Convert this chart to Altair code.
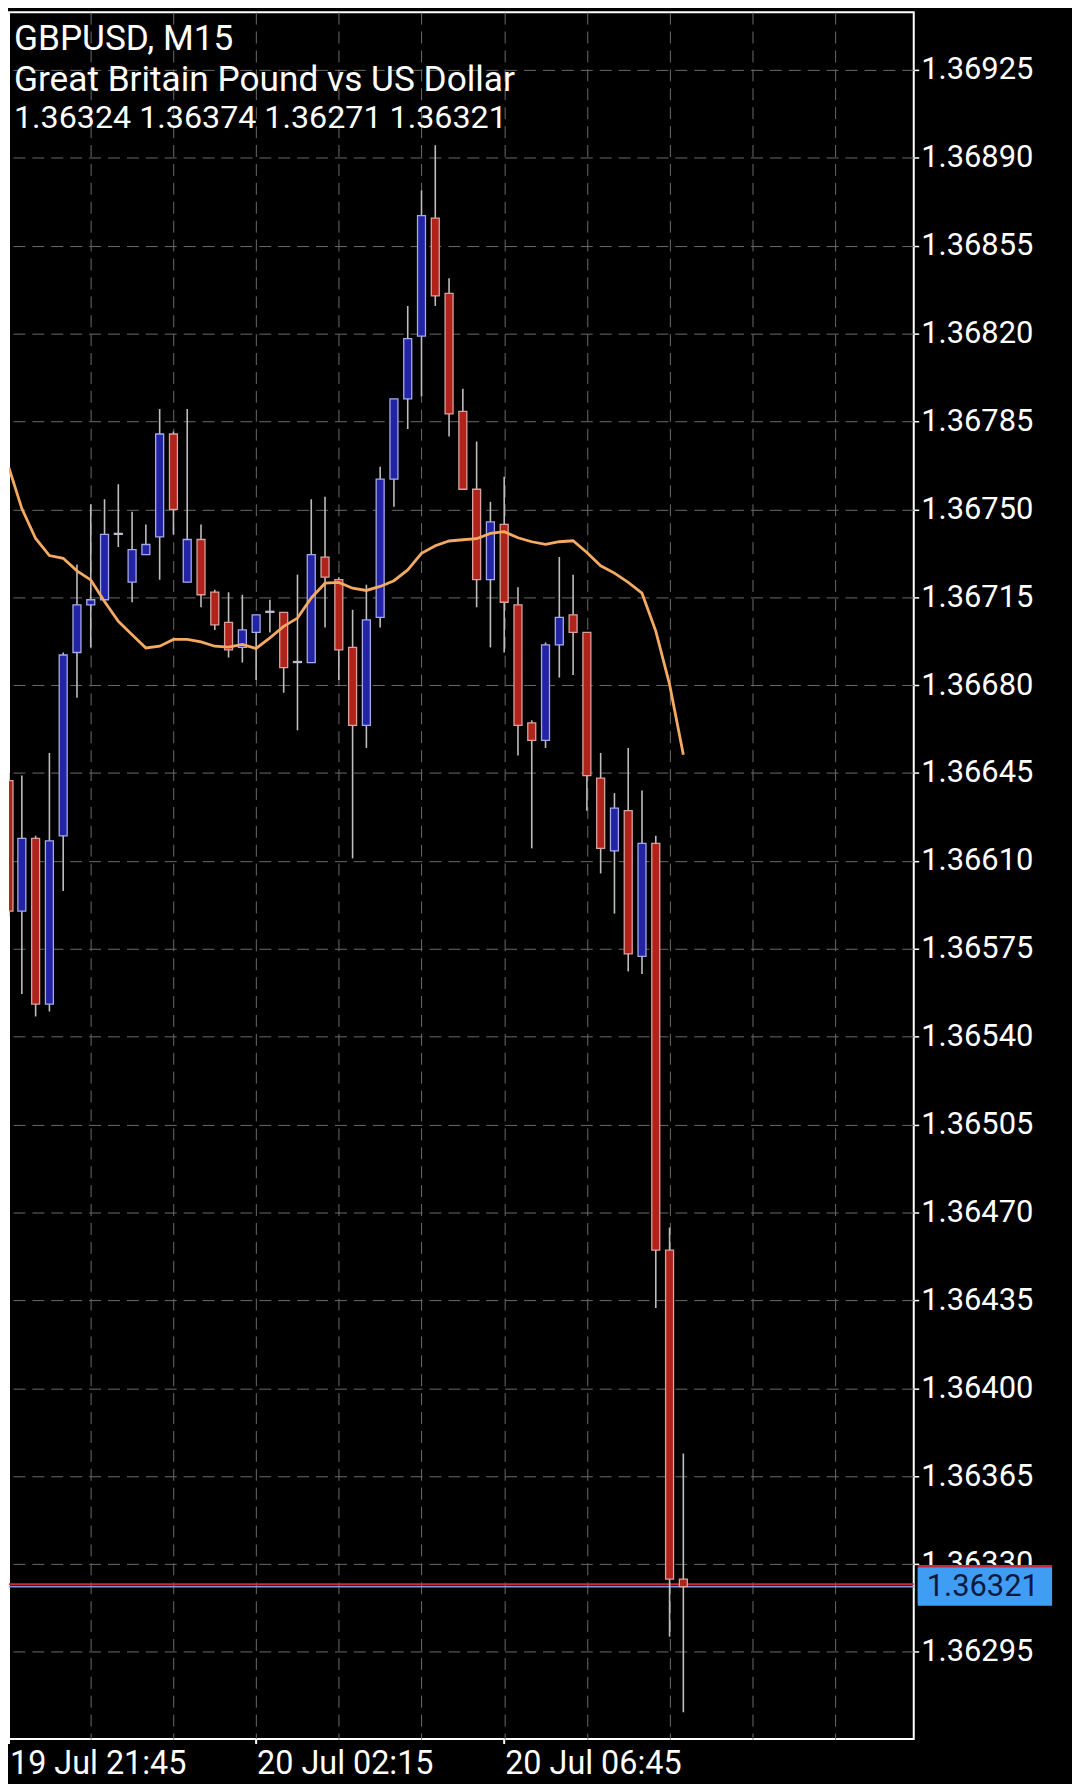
import altair as alt
import numpy as np
import pandas as pd

# ---------------- data ----------------
SYMBOL = "GBPUSD, M15"
DESCRIPTION = "Great Britain Pound vs US Dollar"

OPEN = [1.36642, 1.36590, 1.36619, 1.36553, 1.36620, 1.36693, 1.36712, 1.36714, 1.36740, 1.36721,
        1.36732, 1.36739, 1.36780, 1.36721, 1.36738, 1.36717, 1.36705, 1.36695, 1.36701, 1.36709,
        1.36709, 1.36689, 1.36689, 1.36731, 1.36722, 1.36695, 1.36664, 1.36707, 1.36762, 1.36794,
        1.36819, 1.36866, 1.36836, 1.36789, 1.36758, 1.36722, 1.36744, 1.36712, 1.36665, 1.36658,
        1.36696, 1.36708, 1.36701, 1.36643, 1.36614, 1.36630, 1.36572, 1.36617, 1.36455, 1.36324]
HIGH = [1.36645, 1.36644, 1.36620, 1.36653, 1.36693, 1.36728, 1.36752, 1.36754, 1.36760, 1.36749,
        1.36744, 1.36790, 1.36781, 1.36790, 1.36744, 1.36718, 1.36717, 1.36716, 1.36708, 1.36714,
        1.36709, 1.36724, 1.36754, 1.36755, 1.36723, 1.36710, 1.36720, 1.36767, 1.36794, 1.36831,
        1.36877, 1.36895, 1.36842, 1.36798, 1.36777, 1.36753, 1.36763, 1.36719, 1.36666, 1.36697,
        1.36731, 1.36724, 1.36701, 1.36653, 1.36637, 1.36655, 1.36638, 1.36620, 1.36464, 1.36374]
LOW = [1.36588, 1.36557, 1.36548, 1.36550, 1.36598, 1.36675, 1.36695, 1.36713, 1.36735, 1.36713,
       1.36732, 1.36722, 1.36740, 1.36721, 1.36711, 1.36702, 1.36691, 1.36689, 1.36682, 1.36701,
       1.36677, 1.36662, 1.36689, 1.36703, 1.36682, 1.36611, 1.36655, 1.36703, 1.36751, 1.36782,
       1.36795, 1.36831, 1.36779, 1.36758, 1.36711, 1.36695, 1.36693, 1.36652, 1.36615, 1.36655,
       1.36683, 1.36684, 1.36630, 1.36605, 1.36589, 1.36566, 1.36565, 1.36432, 1.36301, 1.36271]
CLOSE = [1.36590, 1.36619, 1.36553, 1.36618, 1.36692, 1.36712, 1.36714, 1.36740, 1.36740, 1.36734,
         1.36736, 1.36780, 1.36750, 1.36738, 1.36716, 1.36704, 1.36694, 1.36702, 1.36708, 1.36709,
         1.36687, 1.36689, 1.36732, 1.36723, 1.36694, 1.36664, 1.36706, 1.36762, 1.36794, 1.36818,
         1.36867, 1.36835, 1.36788, 1.36758, 1.36722, 1.36745, 1.36713, 1.36664, 1.36658, 1.36696,
         1.36707, 1.36701, 1.36644, 1.36615, 1.36631, 1.36573, 1.36617, 1.36455, 1.36324, 1.36321]
MOVING_AVG = [1.367665, 1.367503, 1.367384, 1.367316, 1.367305, 1.367255, 1.367219, 1.367133, 1.367054, 1.367001,
              1.366948, 1.366955, 1.366982, 1.366982, 1.366972, 1.366955, 1.366951, 1.366962, 1.366946, 1.366988,
              1.367034, 1.367067, 1.367147, 1.367206, 1.367209, 1.367186, 1.367177, 1.367193, 1.367216, 1.367259,
              1.367325, 1.367355, 1.367374, 1.367379, 1.367383, 1.367404, 1.367411, 1.367387, 1.367371, 1.367361,
              1.367371, 1.367375, 1.367328, 1.367275, 1.367246, 1.367209, 1.367166, 1.367015, 1.366803, 1.366523]
BAR_INDEX = list(range(len(OPEN)))

Y_TICKS = [1.36295, 1.36330, 1.36365, 1.36400, 1.36435, 1.36470, 1.36505, 1.36540, 1.36575, 1.36610,
           1.36645, 1.36680, 1.36715, 1.36750, 1.36785, 1.36820, 1.36855, 1.36890, 1.36925]
TIME_LABELS = ["19 Jul 21:45", "20 Jul 02:15", "20 Jul 06:45"]
TIME_LABEL_BARS = [0, 18, 36]
GRID_BARS = list(range(6, 61, 6))
BID = 1.36321
ASK = 1.36322

# ---------------- layout / style ----------------
W, H = 909, 1735
BAR_PX = 14.0
X_LO = 6 / BAR_PX
FONT = "Roboto"
FS = 31

x_scale = alt.Scale(domain=[X_LO, X_LO + W / BAR_PX], clamp=True, nice=False, zero=False)
y_scale = alt.Scale(domain=[1.362603, 1.369480], nice=False, zero=False)
grid = dict(grid=True, gridColor="#6a6a6a", gridDash=[12, 7], gridWidth=1)
x_axis = alt.Axis(values=GRID_BARS, labels=False, ticks=False, domain=False, title=None, **grid)
y_axis = alt.Axis(orient="right", values=Y_TICKS, format=".5f", labelFont=FONT, labelFontSize=FS,
                  labelColor="white", tickColor="white", tickSize=5, tickWidth=1.5, labelPadding=2,
                  domain=False, title=None, labelOverlap=False, labelFlush=False, **grid)


def X(f):
    return alt.X(f"{f}:Q", scale=x_scale, axis=x_axis)


def Y(f):
    return alt.Y(f"{f}:Q", scale=y_scale, axis=y_axis)


o = np.array(OPEN)
c = np.array(CLOSE)
candles = pd.DataFrame({"k": BAR_INDEX, "o": OPEN, "h": HIGH, "l": LOW, "c": CLOSE, "ma": MOVING_AVG,
                        "dir": np.where(c > o, "up", np.where(c < o, "down", "flat"))})

one = pd.DataFrame({"z": [0]})

# small black patch so the canvas reaches (but does not exceed) the page width
corner = alt.Chart(one).mark_rect(color="black").encode(
    x=alt.value(1054), x2=alt.value(1062), y=alt.value(1700), y2=alt.value(1708))

prices = pd.DataFrame({"p": [ASK, BID], "kind": ["ask", "bid"],
                       "label": [f"{ASK:.5f}", f"{BID:.5f}"]})
price_lines = alt.Chart(prices).mark_rule(strokeWidth=1.6).encode(
    x=alt.value(0), x2=alt.value(W), y=Y("p"),
    color=alt.Color("kind:N", scale=alt.Scale(domain=["ask", "bid"], range=["#d0283a", "#8494dc"]), legend=None))

wicks = alt.Chart(candles).mark_rule(color="#bdbdbd", strokeWidth=1.6, clip=True).encode(
    x=X("k"), y=Y("l"), y2="h")

bodies = alt.Chart(candles).transform_calculate(
    c2="datum.c == datum.o ? datum.c + 0.000004 : datum.c"
).mark_bar(size=8, strokeWidth=1.3, clip=True).encode(
    x=X("k"), y=Y("o"), y2="c2:Q",
    fill=alt.Fill("dir:N", scale=alt.Scale(domain=["up", "down", "flat"],
                                           range=["#2323a6", "#b0231b", "#b9bcd3"]), legend=None),
    stroke=alt.Stroke("dir:N", scale=alt.Scale(domain=["up", "down", "flat"],
                                               range=["#a3aae6", "#d9a19d", "#b9bcd3"]), legend=None))

ma_line = alt.Chart(candles).mark_line(color="#f5aa62", strokeWidth=2.8, clip=True).encode(
    x=X("k"), y=Y("ma"))

ohlc_text = " ".join(f"{v:.5f}" for v in (OPEN[-1], HIGH[-1], LOW[-1], CLOSE[-1]))
header_lines = [SYMBOL, DESCRIPTION, ohlc_text]
header_y = [38.5, 79.5, 116.5]
header_fs = [35.4, 35.4, 32.4]
headers = [
    alt.Chart(pd.DataFrame({"t": [txt]})).mark_text(
        align="left", baseline="alphabetic", font=FONT, fontSize=fs, color="white"
    ).encode(x=alt.value(5), y=alt.value(yy), text="t:N")
    for txt, yy, fs in zip(header_lines, header_y, header_fs)
]

tlabels = pd.DataFrame({"k": TIME_LABEL_BARS, "label": TIME_LABELS})
time_text = alt.Chart(tlabels).mark_text(
    align="left", baseline="alphabetic", dx=1, font=FONT, fontSize=32.5, color="white"
).encode(x=X("k"), y=alt.value(H + 35), text="label:N")
time_ticks = alt.Chart(tlabels).mark_rule(color="white", strokeWidth=2).encode(
    x=X("k"), y=alt.value(H), y2=alt.value(H + 5))

ask_box = alt.Chart(prices).transform_filter("datum.kind == 'ask'").mark_rule(
    color="#c8283c", strokeWidth=38.4, strokeCap="butt"
).encode(x=alt.value(W + 4), x2=alt.value(W + 139), y=Y("p"))
bid_box = alt.Chart(prices).transform_filter("datum.kind == 'bid'").mark_rule(
    color="#3f9ef3", strokeWidth=38.4, strokeCap="butt"
).encode(x=alt.value(W + 4), x2=alt.value(W + 139), y=Y("p"))
bid_text = alt.Chart(prices).transform_filter("datum.kind == 'bid'").mark_text(
    align="left", baseline="middle", font=FONT, fontSize=FS, color="#0d1a3f"
).encode(x=alt.value(W + 13), y=Y("p"), text="label:N")

chart = alt.layer(
    corner, price_lines, wicks, bodies, ma_line, *headers, time_text, time_ticks,
    ask_box, bid_box, bid_text
).properties(
    width=W, height=H, padding=0, background="black"
).configure_view(
    stroke="white", strokeWidth=2
)

chart.save("out.html", embed_options={"renderer": "svg", "actions": False})
